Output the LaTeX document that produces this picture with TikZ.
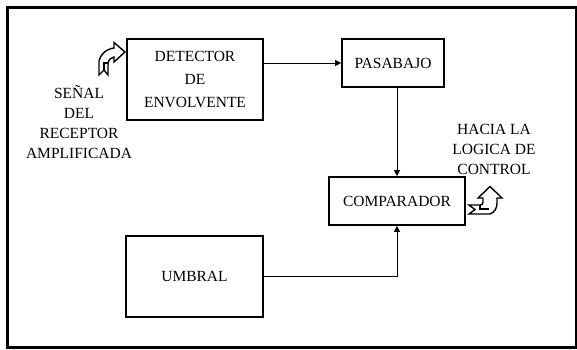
\documentclass[tikz,border=0pt]{standalone}
\usepackage{fontspec}
\setmainfont{Liberation Serif}
\usetikzlibrary{arrows.meta}
\begin{document}
\begin{tikzpicture}[x=1pt,y=-1pt,
  blk/.style={draw,line width=1.6pt,inner sep=0pt,align=center,
    font=\fontsize{15.5}{23}\selectfont},
  lbl/.style={align=center,inner sep=0pt,font=\fontsize{15.5}{20}\selectfont},
  conn/.style={line width=0.9pt,-{Triangle[length=6pt,width=6pt]}},
  hollow/.style={draw,fill=white,line width=1.4pt,line join=miter}]
\useasboundingbox (0,0) rectangle (577,349);
\draw[line width=3pt] (7.5,7) rectangle (576,347.5);
\node[blk,minimum width=136pt,minimum height=81pt] (det) at (195,79.5) {DETECTOR\\DE\\ENVOLVENTE};
\node[blk,minimum width=102pt,minimum height=48pt] (pas) at (393,63) {PASABAJO};
\node[blk,minimum width=136pt,minimum height=48pt] (comp) at (397,201) {COMPARADOR};
\node[blk,minimum width=137pt,minimum height=81pt] (umb) at (194.5,276.5) {UMBRAL};
\node[lbl] (inl) at (79,122.5) {SEÑAL\\DEL\\RECEPTOR\\AMPLIFICADA};
\node[lbl] (outl) at (494,149) {HACIA LA\\LOGICA DE\\CONTROL};
\draw[conn] (det.east |- pas.west) -- (pas.west);
\draw[conn] (pas.south -| comp.north) -- (comp.north);
\draw[conn] (umb.east) -| (comp.south);
% input hollow arrow
\draw[hollow] (99,75) -- (104,70) -- (108,75) -- (108,63)
  .. controls (109,59) and (111,58) .. (114,57) -- (114,62) -- (125,52)
  -- (114,42.5) -- (114,48) .. controls (106,49) and (100,55) .. (99,61) -- cycle;
\draw[line width=1.2pt] (108,63) -- (104,63) -- (104,70);
% output hollow arrow
\draw[hollow] (469,205) -- (475,209.5) -- (469,214) -- (490,214)
  .. controls (495,212) and (497,208) .. (497,203) -- (497,198) -- (502,198)
  -- (490,186.5) -- (478,198) -- (483,198) -- (483,202)
  .. controls (483,204) and (482,205) .. (480,205) -- cycle;
\draw[line width=1.2pt] (480,205) -- (480,209) -- (489,209);
\end{tikzpicture}
\end{document}
